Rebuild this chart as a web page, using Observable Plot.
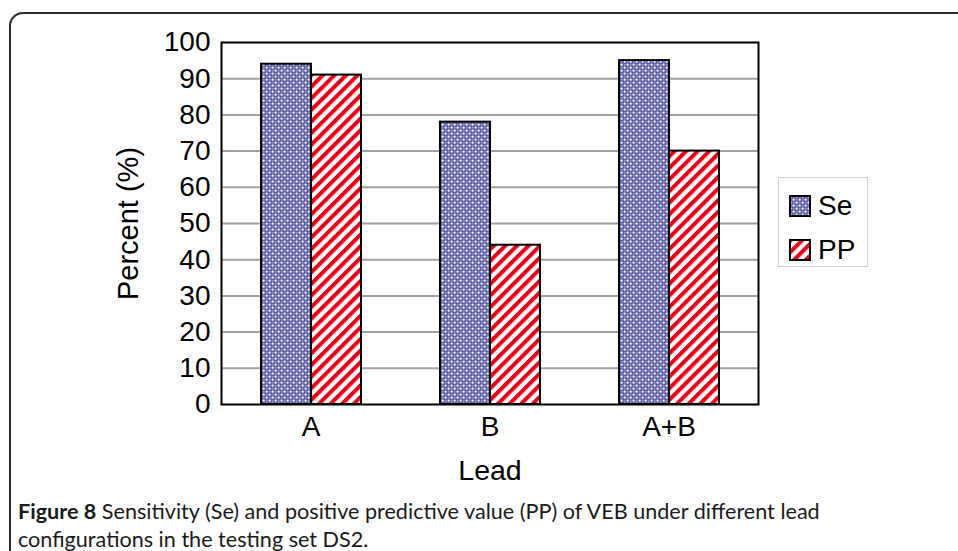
<!DOCTYPE html>
<html>
<head>
<meta charset="utf-8">
<script src="https://cdn.jsdelivr.net/npm/d3@7"></script>
<script src="https://cdn.jsdelivr.net/npm/@observablehq/plot@0.6"></script>
<style>
  html, body { margin: 0; padding: 0; background: #fff; }
  #wrap { position: relative; width: 958px; height: 551px; overflow: hidden; background: #fff; }
  #border { position: absolute; left: 9px; top: 12px; width: 1100px; height: 700px;
            border: 2px solid #2a2a2a; border-radius: 14px; box-sizing: border-box; }
  #chart { position: absolute; left: 0; top: 0; }
  #legend { position: absolute; left: 778px; top: 177px; width: 90px; height: 90px; box-sizing: border-box;
            border: 1px solid #d0d0d0; background: #fff; font-family: "Liberation Sans", Arial, sans-serif; font-size: 28px; color: #000; }
  .item { position: absolute; left: 10px; display: flex; align-items: center; }
  .item svg { margin-right: 7px; }
  #caption { position: absolute; left: 18px; top: 497px; font-family: Lato, "Open Sans", sans-serif;
             font-size: 21.6px; line-height: 28px; color: #1a1a1a; white-space: nowrap; }
</style>
</head>
<body>
<div id="wrap">
  <div id="border"></div>
  <div id="chart"></div>
  <div id="legend"></div>
  <div id="caption"><b>Figure 8</b> Sensitivity (Se) and positive predictive value (PP) of VEB under different lead<br>configurations in the testing set DS2.</div>
</div>
<script>
const leads = ["A", "B", "A+B"];
const seriesNames = ["Se", "PP"];
const seValues = [94, 78, 95];
const ppValues = [91, 44, 70];
const yTicks = [0, 10, 20, 30, 40, 50, 60, 70, 80, 90, 100];
const gridTicks = [10, 20, 30, 40, 50, 60, 70, 80, 90];

const data = [];
leads.forEach((lead, i) => {
  data.push({lead, series: "Se", value: seValues[i]});
  data.push({lead, series: "PP", value: ppValues[i]});
});

const patternDefs = `
<defs>
  <pattern id="sePat" patternUnits="userSpaceOnUse" width="6" height="6">
    <rect width="6" height="6" fill="#34348f"/>
    <rect x="0.5" y="0.5" width="2.2" height="2.2" fill="#ffffff"/>
    <rect x="3.5" y="3.5" width="2.2" height="2.2" fill="#ffffff"/>
    <rect x="3.5" y="0.5" width="2.2" height="2.2" fill="#9a9acc"/>
    <rect x="0.5" y="3.5" width="2.2" height="2.2" fill="#9a9acc"/>
  </pattern>
  <pattern id="ppPat" patternUnits="userSpaceOnUse" width="8.2" height="8.2" patternTransform="rotate(45)">
    <rect width="8.2" height="8.2" fill="#ffffff"/>
    <rect width="4" height="8.2" fill="#e60018"/>
  </pattern>
</defs>`;

const font = "'Liberation Sans', Arial, sans-serif";

const chart = Plot.plot({
  width: 958,
  height: 490,
  marginLeft: 220,
  marginRight: 200,
  marginTop: 42,
  marginBottom: 86,
  style: {fontFamily: font, fontSize: "28px", color: "#000", background: "transparent"},
  fx: {domain: leads, padding: 0, label: null, tickSize: 0, tickPadding: 12},
  x: {domain: seriesNames, paddingInner: 0, paddingOuter: 0.758, axis: null},
  y: {domain: [0, 100], ticks: yTicks, tickSize: 0, tickPadding: 11, label: null},
  color: {domain: seriesNames, range: ["url(#sePat)", "url(#ppPat)"]},
  marks: [
    Plot.ruleY(gridTicks, {stroke: "#a0a0a0", strokeWidth: 2}),
    Plot.barY(data, {fx: "lead", x: "series", y: "value", fill: "series", stroke: "#000", strokeWidth: 2}),
    Plot.frame({stroke: "#000", strokeWidth: 2, facet: "super"}),
    Plot.text(["Percent (%)"], {text: d => d, frameAnchor: "left", dx: -93, rotate: -90, textAnchor: "middle", lineAnchor: "middle", fontSize: 29, facet: "super"}),
    Plot.text(["Lead"], {text: d => d, frameAnchor: "bottom", dy: 66, textAnchor: "middle", lineAnchor: "middle", fontSize: 28.5, facet: "super"})
  ]
});
chart.insertAdjacentHTML("afterbegin", patternDefs);
document.getElementById("chart").appendChild(chart);

// legend
const legend = document.getElementById("legend");
seriesNames.forEach((name, i) => {
  const item = document.createElement("div");
  item.className = "item";
  item.style.top = (i === 0 ? 12 : 56) + "px";
  item.innerHTML = `<svg width="22" height="22"><rect x="1" y="1" width="20" height="20" fill="url(#${i === 0 ? "sePat" : "ppPat"})" stroke="#000" stroke-width="2"/></svg><span>${name}</span>`;
  legend.appendChild(item);
});
</script>
</body>
</html>
